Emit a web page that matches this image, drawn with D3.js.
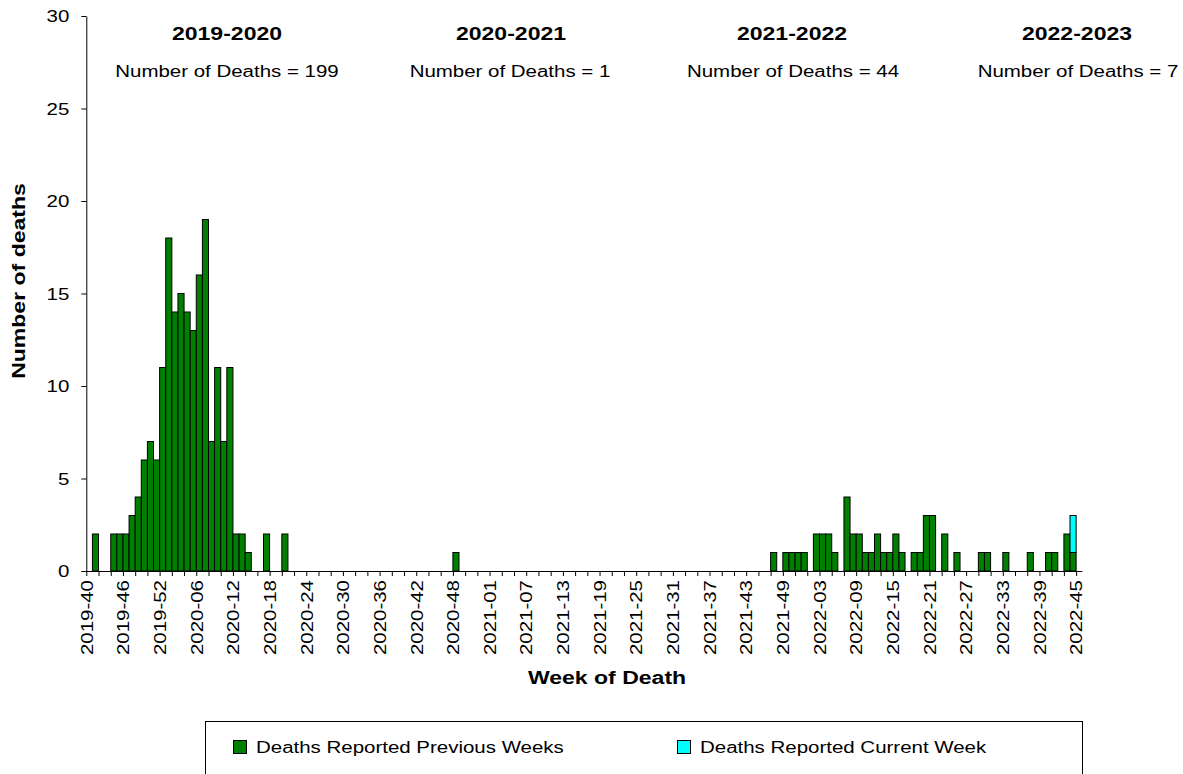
<!DOCTYPE html>
<html>
<head>
<meta charset="utf-8">
<script src="https://cdn.jsdelivr.net/npm/d3@7"></script>
<style>
  html, body { margin: 0; padding: 0; background: #fff; }
  svg { display: block; font-family: "Liberation Sans", Arial, sans-serif; }
</style>
</head>
<body>
<svg id="chart" width="1183" height="774"></svg>
<script>
// ---------- DATA ----------
// week ranges per calendar year shown on the axis: [year, firstWeek, lastWeek]
const yearWeekRanges = [[2019, 40, 52], [2020, 1, 53], [2021, 1, 52], [2022, 1, 45]];

// Deaths reported in previous weeks, one value per week in axis order
const prev2019 = [0, 2, 0, 0, 2, 2, 2, 3, 4, 6, 7, 6, 11];               // 2019-40 .. 2019-52
const prev2020 = [18, 14, 15, 14, 13, 16, 19, 7, 11, 7, 11, 2, 2, 1, 0, 0, 2, 0, 0, 2,  // 01-20
                  0, 0, 0, 0, 0, 0, 0, 0, 0, 0, 0, 0, 0, 0, 0, 0, 0, 0, 0, 0,          // 21-40
                  0, 0, 0, 0, 0, 0, 0, 1, 0, 0, 0, 0, 0];                              // 41-53
const prev2021 = [0, 0, 0, 0, 0, 0, 0, 0, 0, 0, 0, 0, 0, 0, 0, 0, 0, 0, 0, 0,          // 01-20
                  0, 0, 0, 0, 0, 0, 0, 0, 0, 0, 0, 0, 0, 0, 0, 0, 0, 0, 0, 0,          // 21-40
                  0, 0, 0, 0, 0, 0, 1, 0, 1, 1, 1, 1];                                 // 41-52
const prev2022 = [0, 2, 2, 2, 1, 0, 4, 2, 2, 1, 1, 2, 1, 1, 2, 1, 0, 1, 1, 3,          // 01-20
                  3, 0, 2, 0, 1, 0, 0, 0, 1, 1, 0, 0, 1, 0, 0, 0, 1, 0, 0, 1,          // 21-40
                  1, 0, 2, 1, 0];                                                      // 41-45
// Deaths reported in the current week (only the latest weeks carry values)
const currentWeekValues = { "2022-44": 2 };

// Season summary labels
const seasons = ["2019-2020", "2020-2021", "2021-2022", "2022-2023"];
const seasonDeaths = [199, 1, 44, 7];

const yTicks = [0, 5, 10, 15, 20, 25, 30];
const seriesNames = ["Deaths Reported Previous Weeks", "Deaths Reported Current Week"];

// ---------- BUILD TABLE ----------
const weeks = [];
yearWeekRanges.forEach(([yr, a, b]) => {
  for (let w = a; w <= b; w++) weeks.push(yr + "-" + String(w).padStart(2, "0"));
});
const prevAll = [].concat(prev2019, prev2020, prev2021, prev2022);
const table = weeks.map((wk, i) => ({
  week: wk,
  prev: prevAll[i] || 0,
  curr: currentWeekValues[wk] || 0
}));
const stack = d3.stack().keys(["prev", "curr"])(table);

// ---------- LAYOUT ----------
const svg = d3.select("#chart");
const X0 = 86.3, BW = 6.11;
const Y0 = 571, Y1 = 16;
const SX = 1.28; // horizontal glyph stretch of the original rendering
const colors = ["#008000", "#00FFFF"];

const x = d3.scaleBand().domain(weeks).range([X0, X0 + weeks.length * BW]).paddingInner(0).paddingOuter(0);
const xTick = d3.scalePoint().domain(weeks).range([X0, X0 + (weeks.length - 1) * BW]);
const y = d3.scaleLinear().domain([0, 30]).range([Y0, Y1]);

// Bars
svg.append("g").selectAll("g").data(stack).join("g")
  .attr("fill", (d, i) => colors[i])
  .selectAll("rect").data(d => d.filter(s => s[1] - s[0] > 0)).join("rect")
  .attr("x", d => x(d.data.week))
  .attr("width", x.bandwidth())
  .attr("y", d => y(d[1]))
  .attr("height", d => y(d[0]) - y(d[1]))
  .attr("stroke", "#000")
  .attr("stroke-width", 1);

// Y axis
const yAxis = svg.append("g")
  .attr("transform", `translate(${X0},0)`)
  .call(d3.axisLeft(y).tickValues(yTicks).tickSize(5).tickSizeOuter(0).tickFormat(d3.format("d")));
yAxis.select(".domain").attr("stroke", "#000");
yAxis.selectAll(".tick line").attr("stroke", "#000");
yAxis.selectAll(".tick text")
  .attr("x", null).attr("dy", "0.36em")
  .attr("transform", `translate(-17,0) scale(${SX},1)`)
  .attr("text-anchor", "end")
  .attr("font-size", 16).attr("font-family", "Liberation Sans, Arial").attr("fill", "#000");

// X axis
const tickWeeks = weeks.filter((w, i) => i % 2 === 0);
const xAxis = svg.append("g")
  .attr("transform", `translate(0,${Y0})`)
  .call(d3.axisBottom(xTick).tickValues(tickWeeks).tickSize(5).tickSizeOuter(0)
    .tickFormat(d => (weeks.indexOf(d) % 6 === 0 ? d : "")));
xAxis.select(".domain").attr("d", `M${X0},0.5H${X0 + weeks.length * BW}`).attr("stroke", "#000");
xAxis.selectAll(".tick line").attr("stroke", "#000");
xAxis.selectAll(".tick text")
  .attr("y", null).attr("dy", "0.36em")
  .attr("transform", `translate(0,9) rotate(-90) scale(${SX},1)`)
  .attr("text-anchor", "end")
  .attr("font-size", 16).attr("font-family", "Liberation Sans, Arial").attr("fill", "#000");

// Axis titles
svg.append("text")
  .attr("transform", `translate(25,281) rotate(-90) scale(${SX},1)`)
  .attr("text-anchor", "middle").attr("font-weight", "bold").attr("font-size", 18)
  .text("Number of deaths");
svg.append("text")
  .attr("transform", `translate(607,684) scale(${SX},1)`)
  .attr("text-anchor", "middle").attr("font-weight", "bold").attr("font-size", 18)
  .text("Week of Death");

// Season labels
const seasonTitleX = [227, 511, 792, 1077];
const seasonCountX = [227, 510, 793, 1078];
seasons.forEach((s, i) => {
  svg.append("text")
    .attr("transform", `translate(${seasonTitleX[i]},40) scale(${SX},1)`)
    .attr("text-anchor", "middle").attr("font-weight", "bold").attr("font-size", 18)
    .text(s);
  svg.append("text")
    .attr("transform", `translate(${seasonCountX[i]},77) scale(${SX},1)`)
    .attr("text-anchor", "middle").attr("font-size", 16)
    .text("Number of Deaths = " + seasonDeaths[i]);
});

// Legend
const lg = svg.append("g");
lg.append("rect").attr("x", 205.5).attr("y", 721.5).attr("width", 877).attr("height", 80)
  .attr("fill", "#fff").attr("stroke", "#000").attr("stroke-width", 1);
const legendX = [233, 677];
seriesNames.forEach((n, i) => {
  lg.append("rect").attr("x", legendX[i] + 0.5).attr("y", 740.5).attr("width", 13).attr("height", 13)
    .attr("fill", colors[i]).attr("stroke", "#000");
  lg.append("text")
    .attr("transform", `translate(${legendX[i] + 23},753) scale(${SX},1)`)
    .attr("font-size", 16).text(n);
});
</script>
</body>
</html>
